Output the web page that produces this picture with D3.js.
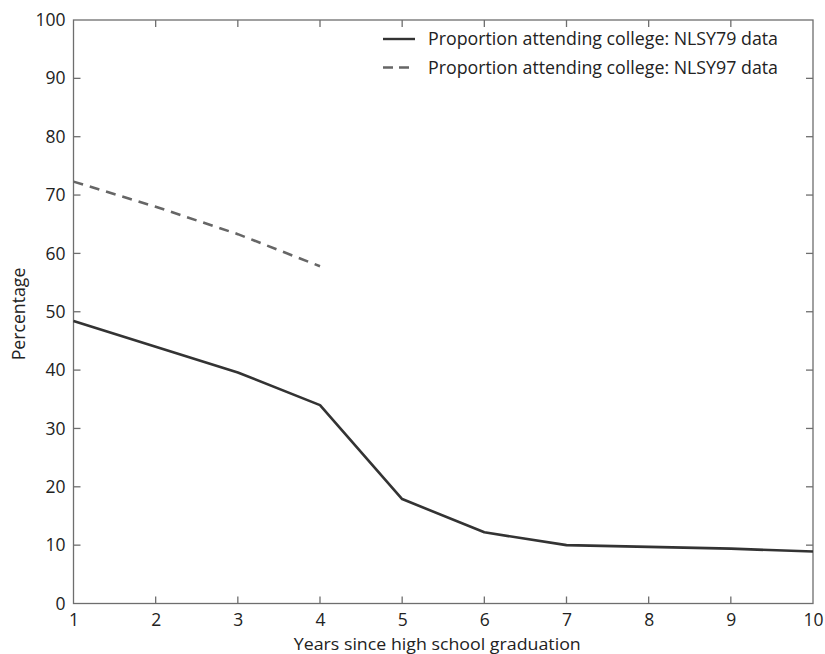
<!DOCTYPE html>
<html><head><meta charset="utf-8">
<script src="https://cdn.jsdelivr.net/npm/d3@7"></script>
<style>body{margin:0;background:#fff;} text{font-family:"Open Sans",sans-serif;}</style>
</head><body>
<svg id="c" width="825" height="654"></svg>
<script>
const years = [1,2,3,4,5,6,7,8,9,10];
const nlsy79 = [48.4,44.0,39.6,34.0,17.9,12.2,10.0,9.7,9.4,8.9];
const years97 = [1,2,3,4];
const nlsy97 = [72.3,68.0,63.3,57.8];
const xTicks = [1,2,3,4,5,6,7,8,9,10];
const yTicks = [0,10,20,30,40,50,60,70,80,90,100];
const legendLabels = ["Proportion attending college: NLSY79 data","Proportion attending college: NLSY97 data"];

const svg = d3.select("#c");
const L=73.5, R=813, T=20, B=603.5;
const x = d3.scaleLinear().domain([1,10]).range([L,R]);
const y = d3.scaleLinear().domain([0,100]).range([B,T]);
const axisColor="#6e6e6e";
const FS=17.5;

svg.append("rect").attr("x",L).attr("y",T).attr("width",R-L).attr("height",B-T)
  .attr("fill","none").attr("stroke",axisColor).attr("stroke-width",1.3);

const gx = svg.append("g").attr("transform",`translate(0,${B})`)
  .call(d3.axisBottom(x).tickValues(xTicks).tickSize(0).tickFormat(d3.format("d")));
const gxt = svg.append("g").attr("transform",`translate(0,${T})`)
  .call(d3.axisTop(x).tickValues(xTicks).tickSize(0).tickFormat(""));
const gy = svg.append("g").attr("transform",`translate(${L},0)`)
  .call(d3.axisLeft(y).tickValues(yTicks).tickSize(0).tickPadding(8));
const gyr = svg.append("g").attr("transform",`translate(${R},0)`)
  .call(d3.axisRight(y).tickValues(yTicks).tickSize(0).tickFormat(""));
[gx,gxt,gy,gyr].forEach(g=>{g.select(".domain").remove();
  g.selectAll("text").attr("font-size",FS).attr("fill","#222").style("font-family","'Open Sans',sans-serif");});
gx.selectAll("text").attr("y",22).attr("dy","0");
// inward ticks
svg.append("g").selectAll("line").data(xTicks.slice(1,-1)).join("line")
  .attr("x1",d=>x(d)).attr("x2",d=>x(d)).attr("y1",B).attr("y2",B-7).attr("stroke",axisColor).attr("stroke-width",1.3);
svg.append("g").selectAll("line").data(xTicks.slice(1,-1)).join("line")
  .attr("x1",d=>x(d)).attr("x2",d=>x(d)).attr("y1",T).attr("y2",T+7).attr("stroke",axisColor).attr("stroke-width",1.3);
svg.append("g").selectAll("line").data(yTicks.slice(1,-1)).join("line")
  .attr("x1",L).attr("x2",L+7).attr("y1",d=>y(d)).attr("y2",d=>y(d)).attr("stroke",axisColor).attr("stroke-width",1.3);
svg.append("g").selectAll("line").data(yTicks.slice(1,-1)).join("line")
  .attr("x1",R).attr("x2",R-7).attr("y1",d=>y(d)).attr("y2",d=>y(d)).attr("stroke",axisColor).attr("stroke-width",1.3);

const line = d3.line().x(d=>x(d[0])).y(d=>y(d[1]));
svg.append("path").datum(years.map((d,i)=>[d,nlsy79[i]])).attr("d",line)
  .attr("fill","none").attr("stroke","#333").attr("stroke-width",2.6).attr("stroke-linejoin","round");
svg.append("path").datum(years97.map((d,i)=>[d,nlsy97[i]])).attr("d",line)
  .attr("fill","none").attr("stroke","#666").attr("stroke-width",2.6).attr("stroke-dasharray","10,7");

// legend
const lg = svg.append("g");
[0,1].forEach(i=>{
  const yy = 39 + i*28.5;
  lg.append("line").attr("x1",383).attr("x2",415).attr("y1",yy).attr("y2",yy)
    .attr("stroke",i?"#666":"#333").attr("stroke-width",2.4).attr("stroke-dasharray",i?"10,6":null);
  lg.append("text").attr("x",428).attr("y",yy).attr("dy","0.35em").attr("font-size",17.8).attr("fill","#222")
    .attr("textLength",350).attr("lengthAdjust","spacingAndGlyphs")
    .text(legendLabels[i]);
});

svg.append("text").attr("x",(L+R)/2-6).attr("y",649.5).attr("text-anchor","middle").attr("font-size",17.2).attr("fill","#222")
  .attr("textLength",287).attr("lengthAdjust","spacingAndGlyphs")
  .text("Years since high school graduation");
svg.append("text").attr("transform",`translate(25,${314}) rotate(-90)`).attr("text-anchor","middle").attr("font-size",17.7).attr("fill","#222")
  .text("Percentage");
</script>
</body></html>
